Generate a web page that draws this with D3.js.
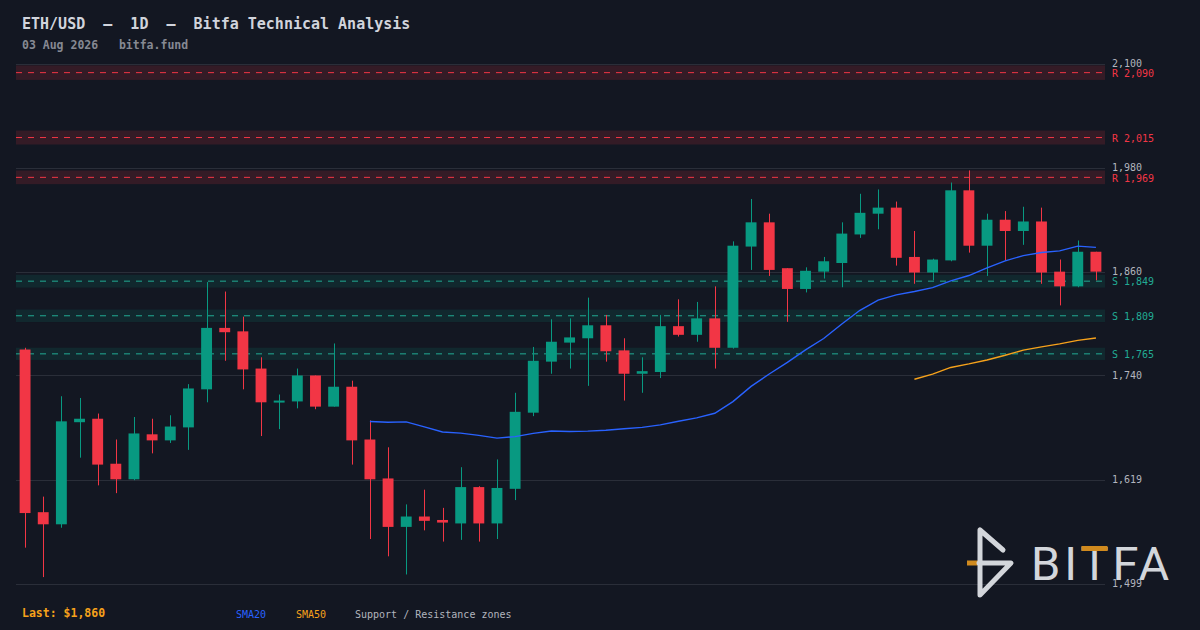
<!DOCTYPE html>
<html>
<head>
<meta charset="utf-8">
<script src="https://cdn.jsdelivr.net/npm/d3@7"></script>
<style>
  html, body { margin: 0; padding: 0; background: #131722; }
  svg { display: block; }
</style>
</head>
<body>
<div id="chart"></div>
<script>
'use strict';

// daily OHLC
var opens  = [1770,1582,1568,1686,1690,1638,1620,1672,1665,1680,1724,1795,1791,1748,1709,1710,1740,1704,1727,1666,
              1621,1565,1577,1573,1569,1611,1569,1609,1697,1756,1778,1783,1798,1769,1742,1744,1797,1787,1806,1772,
              1889,1917,1864,1840,1860,1870,1903,1927,1934,1877,1859,1873,1954,1890,1920,1907,1918,1860,1843,1883];
var highs  = [1772,1600,1716,1714,1696,1666,1692,1690,1694,1730,1848,1837,1808,1761,1718,1748,1740,1777,1734,1688,
              1657,1591,1608,1587,1634,1612,1643,1720,1773,1805,1806,1830,1810,1783,1761,1810,1828,1825,1843,1895,
              1944,1927,1864,1865,1877,1917,1950,1955,1941,1907,1875,1963,1977,1927,1930,1935,1934,1874,1896,1883];
var lows   = [1541,1507,1564,1645,1613,1604,1619,1650,1662,1654,1709,1757,1724,1670,1678,1702,1701,1704,1637,1551,
              1531,1510,1561,1548,1550,1548,1551,1596,1693,1742,1748,1728,1756,1711,1720,1737,1785,1779,1748,1771,
              1862,1855,1802,1836,1852,1842,1899,1909,1867,1846,1850,1872,1882,1855,1873,1891,1846,1821,1842,1850];
var closes = [1581,1568,1687,1690,1637,1620,1673,1665,1681,1725,1795,1790,1747,1709,1711,1740,1704,1727,1665,1620,
              1565,1577,1572,1570,1611,1569,1610,1698,1757,1779,1784,1798,1768,1742,1745,1797,1787,1806,1772,1890,
              1917,1862,1840,1861,1872,1904,1928,1934,1876,1859,1874,1954,1890,1920,1907,1918,1859,1843,1883,1860];

var resistances = [2090, 2015, 1969];
var supports    = [1849, 1809, 1765];
var tickValues  = [1499, 1619, 1740, 1860, 1980, 2100];

var W = 1200, H = 630;
var plot = {left: 16, right: 1105, top: 64, bottom: 584};

var bg = '#131722', up = '#089981', down = '#f23645';

var svg = d3.select('#chart').append('svg')
    .attr('width', W)
    .attr('height', H);

svg.append('rect').attr('width', W).attr('height', H).attr('fill', bg);

var candles = opens.map(function (o, i) {
    return {i: i, o: o, h: highs[i], l: lows[i], c: closes[i]};
});

var x = d3.scaleBand()
    .domain(d3.range(candles.length))
    .range([plot.left, plot.right])
    .padding(0);
var y = d3.scaleLinear()
    .domain([1499, 2100])
    .range([plot.bottom, plot.top]);

var cx = function (i) { return x(i) + x.bandwidth() / 2; };
var bodyW = x.bandwidth() * 0.6;

// grid
svg.append('g')
    .selectAll('line')
    .data(tickValues)
    .enter().append('line')
    .attr('x1', plot.left).attr('x2', plot.right)
    .attr('y1', function (d) { return Math.round(y(d)) + 0.5; })
    .attr('y2', function (d) { return Math.round(y(d)) + 0.5; })
    .attr('stroke', '#2a2e39')
    .attr('stroke-width', 1);

// support / resistance zones
var levels = resistances.map(function (v) { return {v: v, kind: 'R'}; })
    .concat(supports.map(function (v) { return {v: v, kind: 'S'}; }));

var zones = svg.append('g');
levels.forEach(function (d) {
    var col = d.kind === 'R' ? down : '#22ab94';
    var half = d.v * 0.004;
    zones.append('rect')
        .attr('x', plot.left)
        .attr('width', plot.right - plot.left)
        .attr('y', y(d.v + half))
        .attr('height', y(d.v - half) - y(d.v + half))
        .attr('fill', d.kind === 'R' ? down : up)
        .attr('fill-opacity', d.kind === 'R' ? 0.15 : 0.13);
    zones.append('line')
        .attr('x1', plot.left).attr('x2', plot.right)
        .attr('y1', y(d.v)).attr('y2', y(d.v))
        .attr('stroke', col)
        .attr('stroke-width', 1)
        .attr('stroke-dasharray', '6,6');
});

// candles
var cg = svg.append('g');
cg.selectAll('line.wick')
    .data(candles)
    .enter().append('line')
    .attr('class', 'wick')
    .attr('x1', function (d) { return Math.round(cx(d.i)) + 0.5; })
    .attr('x2', function (d) { return Math.round(cx(d.i)) + 0.5; })
    .attr('y1', function (d) { return y(d.h); })
    .attr('y2', function (d) { return y(d.l); })
    .attr('stroke', function (d) { return d.c >= d.o ? up : down; })
    .attr('stroke-width', 1);

cg.selectAll('rect.body')
    .data(candles)
    .enter().append('rect')
    .attr('class', 'body')
    .attr('x', function (d) { return cx(d.i) - bodyW / 2; })
    .attr('width', bodyW)
    .attr('y', function (d) { return y(Math.max(d.o, d.c)); })
    .attr('height', function (d) { return Math.max(2, Math.abs(y(d.o) - y(d.c))); })
    .attr('fill', function (d) { return d.c >= d.o ? up : down; });

// moving averages of the closes
var sma = function (n) {
    var out = [];
    for (var i = n - 1; i < closes.length; i++) {
        out.push({i: i, v: d3.mean(closes.slice(i - n + 1, i + 1))});
    }
    return out;
};
var maLine = d3.line()
    .x(function (d) { return cx(d.i); })
    .y(function (d) { return y(d.v); });

svg.append('path')
    .datum(sma(20))
    .attr('fill', 'none')
    .attr('stroke', '#2962ff')
    .attr('stroke-width', 1.4)
    .attr('d', maLine);
svg.append('path')
    .datum(sma(50))
    .attr('fill', 'none')
    .attr('stroke', '#f7a21b')
    .attr('stroke-width', 1.4)
    .attr('d', maLine);

// logo
var logo = svg.append('g')
    .attr('stroke-linecap', 'round')
    .attr('stroke-linejoin', 'round')
    .attr('fill', 'none')
    .attr('stroke-width', 5);
logo.append('line').attr('x1', 967).attr('x2', 978).attr('y1', 563).attr('y2', 563)
    .attr('stroke', '#d08a1e').attr('stroke-linecap', 'butt');
logo.append('path')
    .attr('d', 'M1003,550 L980,530 L980,595 L1011,563 L979,563')
    .attr('stroke', '#d3d6db');
var brand = svg.append('text')
    .attr('x', 1031)
    .attr('y', 580)
    .attr('font-family', 'Roboto, sans-serif')
    .attr('font-size', 47)
    .attr('font-weight', 400)
    .attr('letter-spacing', 4)
    .attr('fill', '#d3d6db')
    .text('BITFA');
var tBox = brand.node().getExtentOfChar(2);
svg.append('rect')
    .attr('x', tBox.x + 1)
    .attr('y', 546)
    .attr('width', tBox.width - 6)
    .attr('height', 5)
    .attr('fill', '#d08a1e');

// right-hand price labels
var mono = '"DejaVu Sans Mono", monospace';
svg.append('g')
    .attr('transform', 'translate(' + 1108 + ',0)')
    .call(d3.axisRight(y).tickValues(tickValues).tickSize(0).tickPadding(4)
        .tickFormat(d3.format(',')))
    .call(function (g) { g.select('.domain').remove(); })
    .call(function (g) {
        g.selectAll('text')
            .attr('dy', '0.28em')
            .attr('fill', '#b2b5be')
            .attr('font-family', mono)
            .attr('font-size', 10);
    });

svg.append('g')
    .selectAll('text')
    .data(levels)
    .enter().append('text')
    .attr('x', 1112)
    .attr('y', function (d) { return y(d.v); })
    .attr('dy', '0.42em')
    .attr('font-family', mono)
    .attr('font-size', 10)
    .attr('fill', function (d) { return d.kind === 'R' ? down : '#22ab94'; })
    .text(function (d) { return d.kind + ' ' + d3.format(',')(d.v); });

// header
svg.append('text')
    .attr('x', 22).attr('y', 29)
    .attr('font-family', mono)
    .attr('font-size', 15)
    .attr('font-weight', 'bold')
    .attr('fill', '#d1d4dc')
    .style('white-space', 'pre')
    .text('ETH/USD  \u2014  1D  \u2014  Bitfa Technical Analysis');
svg.append('text')
    .attr('x', 22).attr('y', 49)
    .attr('font-family', mono)
    .attr('font-size', 11.5)
    .attr('font-weight', 'bold')
    .attr('fill', '#868993')
    .style('white-space', 'pre')
    .text('03 Aug 2026   bitfa.fund');

// footer
svg.append('text')
    .attr('x', 22).attr('y', 613)
    .attr('dy', '0.35em')
    .attr('font-family', mono)
    .attr('font-size', 11.5)
    .attr('font-weight', 'bold')
    .attr('fill', '#f7a21b')
    .text('Last: $' + d3.format(',')(closes[closes.length - 1]));

var legend = [
    {label: 'SMA20', x: 236, color: '#2962ff'},
    {label: 'SMA50', x: 296, color: '#f7a21b'},
    {label: 'Support / Resistance zones', x: 355, color: '#b2b5be'}
];
svg.append('g')
    .selectAll('text')
    .data(legend)
    .enter().append('text')
    .attr('x', function (d) { return d.x; })
    .attr('y', 614)
    .attr('dy', '0.35em')
    .attr('font-family', mono)
    .attr('font-size', 10)
    .attr('fill', function (d) { return d.color; })
    .text(function (d) { return d.label; });
</script>
</body>
</html>
